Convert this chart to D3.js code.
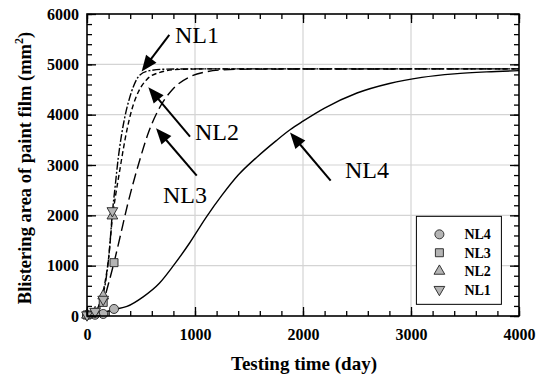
<!DOCTYPE html>
<html>
<head>
<meta charset="utf-8">
<script src="https://cdn.jsdelivr.net/npm/d3@7"></script>
<style>
  body { margin: 0; background: #fff; }
  svg text { font-family: "Times New Roman", Times, "Liberation Serif", "DejaVu Serif", serif; }
</style>
</head>
<body>
<svg id="chart" width="536" height="378"></svg>
<script>
// fitted curves (day, area mm2)
var nl1_curve = [[0,0],[60,50],[120,260],[170,650],[205,1250],[235,2050],[262,2600],[290,3150],[320,3600],[350,3950],[390,4300],[430,4560],[490,4790],[580,4875],[740,4905],[1000,4910],[4000,4910]];
var nl2_curve = [[0,0],[60,55],[120,260],[165,650],[200,1150],[235,1950],[265,2400],[300,2850],[335,3300],[370,3700],[415,4100],[475,4450],[550,4690],[675,4840],[860,4900],[1200,4910],[4000,4910]];
var nl3_curve = [[0,0],[60,30],[120,180],[150,290],[200,650],[250,1060],[305,1560],[380,2250],[475,3000],[570,3650],[675,4150],[800,4520],[950,4750],[1100,4850],[1260,4890],[1500,4905],[4000,4910]];
var nl4_curve = [[0,0],[100,40],[250,130],[370,190],[520,380],[670,650],[800,1000],[950,1450],[1100,1950],[1250,2400],[1400,2800],[1570,3150],[1750,3480],[1880,3700],[2000,3870],[2200,4130],[2500,4430],[2800,4620],[3100,4740],[3400,4810],[3700,4850],[4000,4875]];

// measured points
var nl4_points = [[0,20],[75,25],[150,40],[250,140]];
var nl3_points = [[0,20],[75,60],[150,270],[250,1060]];
var nl2_points = [[0,20],[75,70],[150,400],[235,1990]];
var nl1_points = [[0,20],[75,90],[150,330],[235,2090]];

var x_ticks = [0, 1000, 2000, 3000, 4000];
var y_ticks = [0, 1000, 2000, 3000, 4000, 5000, 6000];

// arrow labels: text position, arrow tail, arrow tip (day, area)
var labels = [
  {name: "NL1", text: [815, 5427], from: [762, 5586], to: [506, 4857]},
  {name: "NL2", text: [1000, 3499], from: [954, 3565], to: [568, 4547]},
  {name: "NL3", text: [704, 2247], from: [1016, 2789], to: [639, 3732]},
  {name: "NL4", text: [2389, 2738], from: [2256, 2690], to: [1880, 3644]}
];

var legend_items = ["NL4", "NL3", "NL2", "NL1"];

var serif = "'Times New Roman', Times, 'Liberation Serif', 'DejaVu Serif', serif";
var margin = {left: 87, top: 14, right: 17, bottom: 62};
var svg = d3.select("#chart");
var width = 536 - margin.left - margin.right;
var height = 378 - margin.top - margin.bottom;

var g = svg.append("g").attr("transform", "translate(" + margin.left + "," + margin.top + ")");

var x = d3.scaleLinear().domain([0, 4000]).range([0, width]);
var y = d3.scaleLinear().domain([0, 6000]).range([height, 0]);

var x_minor = d3.range(0, 4001, 200);
var y_minor = d3.range(0, 6001, 200);

// grid
g.selectAll(".gridx").data(x_ticks.slice(1, -1)).enter().append("line")
    .attr("x1", function(d) { return x(d); }).attr("x2", function(d) { return x(d); })
    .attr("y1", 0).attr("y2", height)
    .attr("stroke", "#d4d4d4").attr("stroke-width", 1.2);
g.selectAll(".gridy").data(y_ticks.slice(1, -1)).enter().append("line")
    .attr("y1", function(d) { return y(d); }).attr("y2", function(d) { return y(d); })
    .attr("x1", 0).attr("x2", width)
    .attr("stroke", "#d4d4d4").attr("stroke-width", 1.2);

// curves
var line = d3.line()
    .x(function(d) { return x(d[0]); })
    .y(function(d) { return y(d[1]); })
    .curve(d3.curveMonotoneX);

var curves = [
  {data: nl4_curve, dash: null},
  {data: nl3_curve, dash: "11,5"},
  {data: nl2_curve, dash: "5,3"},
  {data: nl1_curve, dash: "8,2,2,2"}
];
g.selectAll(".curve").data(curves).enter().append("path")
    .attr("class", "curve")
    .attr("d", function(d) { return line(d.data); })
    .attr("fill", "none")
    .attr("stroke", "#000")
    .attr("stroke-width", 1.4)
    .attr("stroke-dasharray", function(d) { return d.dash; });

// markers
var symbols = {
  NL4: d3.symbol().type(d3.symbolCircle).size(64),
  NL3: d3.symbol().type(d3.symbolSquare).size(64),
  NL2: d3.symbol().type(d3.symbolTriangle).size(50),
  NL1: d3.symbol().type(d3.symbolTriangle).size(50)
};
function drawMarkers(sel, name, pts) {
  sel.selectAll(".m_" + name).data(pts).enter().append("path")
      .attr("class", "m_" + name)
      .attr("d", symbols[name]())
      .attr("transform", function(d) {
          return "translate(" + x(d[0]) + "," + y(d[1]) + ")" + (name == "NL1" ? " rotate(180)" : "");
      })
      .attr("fill", "#b4b4b4")
      .attr("stroke", "#222")
      .attr("stroke-width", 0.9);
}
drawMarkers(g, "NL4", nl4_points);
drawMarkers(g, "NL3", nl3_points);
drawMarkers(g, "NL2", nl2_points);
drawMarkers(g, "NL1", nl1_points);

// arrows with labels
function angle(d) {
  return Math.atan2(y(d.to[1]) - y(d.from[1]), x(d.to[0]) - x(d.from[0]));
}
g.selectAll(".arrow").data(labels).enter().append("line")
    .attr("x1", function(d) { return x(d.from[0]); })
    .attr("y1", function(d) { return y(d.from[1]); })
    .attr("x2", function(d) { return x(d.to[0]) - 12 * Math.cos(angle(d)); })
    .attr("y2", function(d) { return y(d.to[1]) - 12 * Math.sin(angle(d)); })
    .attr("stroke", "#000").attr("stroke-width", 2);

g.selectAll(".head").data(labels).enter().append("path")
    .attr("d", "M0,0 L-16,-6.5 L-16,6.5 Z")
    .attr("transform", function(d) {
        return "translate(" + x(d.to[0]) + "," + y(d.to[1]) + ") rotate(" + (angle(d) * 180 / Math.PI) + ")";
    })
    .attr("fill", "#000");

g.selectAll(".lbl").data(labels).enter().append("text")
    .attr("x", function(d) { return x(d.text[0]); })
    .attr("y", function(d) { return y(d.text[1]); })
    .attr("font-size", "24px")
    .style("font-family", serif)
    .text(function(d) { return d.name; });

// axes: ticks inside on all four sides
function styleAxis(a) {
  a.select(".domain").remove();
  a.selectAll("line").attr("stroke", "#000").attr("stroke-width", 1.3);
  a.selectAll("text").attr("font-size", "16px").attr("font-weight", "bold")
      .style("font-family", serif).attr("fill", "#000");
}
var ax;
ax = g.append("g").attr("transform", "translate(0," + height + ")")
    .call(d3.axisBottom(x).tickValues(x_minor).tickSize(-5).tickFormat(""));
styleAxis(ax);
ax = g.append("g").attr("transform", "translate(0," + height + ")")
    .call(d3.axisBottom(x).tickValues(x_ticks).tickSize(-9).tickPadding(13).tickFormat(d3.format("d")));
styleAxis(ax);
ax = g.append("g")
    .call(d3.axisTop(x).tickValues(x_minor).tickSize(-5).tickFormat(""));
styleAxis(ax);
ax = g.append("g")
    .call(d3.axisTop(x).tickValues(x_ticks).tickSize(-9).tickFormat(""));
styleAxis(ax);
ax = g.append("g")
    .call(d3.axisLeft(y).tickValues(y_minor).tickSize(-5).tickFormat(""));
styleAxis(ax);
ax = g.append("g")
    .call(d3.axisLeft(y).tickValues(y_ticks).tickSize(-9).tickPadding(8).tickFormat(d3.format("d")));
styleAxis(ax);
ax = g.append("g").attr("transform", "translate(" + width + ",0)")
    .call(d3.axisRight(y).tickValues(y_minor).tickSize(-5).tickFormat(""));
styleAxis(ax);
ax = g.append("g").attr("transform", "translate(" + width + ",0)")
    .call(d3.axisRight(y).tickValues(y_ticks).tickSize(-9).tickFormat(""));
styleAxis(ax);

// frame
g.append("rect").attr("x", 0).attr("y", 0).attr("width", width).attr("height", height)
    .attr("fill", "none").attr("stroke", "#000").attr("stroke-width", 1.6);

// legend
var legend = g.append("g").attr("transform", "translate(" + (x(3050)) + "," + (y(2000) + 1) + ")");
legend.append("rect").attr("width", 85).attr("height", 88)
    .attr("fill", "#fff").attr("stroke", "#000").attr("stroke-width", 1);
legend_items.forEach(function(name, i) {
  var row = legend.append("g").attr("transform", "translate(0," + (18 + i * 18.4) + ")");
  row.append("path")
      .attr("d", symbols[name]())
      .attr("transform", "translate(23,0)" + (name == "NL1" ? " rotate(180)" : ""))
      .attr("fill", "#b4b4b4").attr("stroke", "#222").attr("stroke-width", 0.9);
  row.append("text").attr("x", 48).attr("y", 5)
      .attr("font-size", "14px").attr("font-weight", "bold")
      .style("font-family", serif)
      .text(name);
});

// axis titles
svg.append("text")
    .attr("x", margin.left + width / 2 + 1).attr("y", 370)
    .attr("text-anchor", "middle")
    .attr("font-size", "19px").attr("font-weight", "bold")
    .style("font-family", serif)
    .text("Testing time (day)");

var ylab = svg.append("text")
    .attr("transform", "translate(31," + (margin.top + height / 2 + 3) + ") rotate(-90)")
    .attr("text-anchor", "middle")
    .attr("font-size", "18.5px").attr("font-weight", "bold")
    .style("font-family", serif);
ylab.append("tspan").text("Blistering area of paint film (mm");
ylab.append("tspan").attr("font-size", "12px").attr("dy", "-8").text("2");
ylab.append("tspan").attr("dy", "8").text(")");
</script>
</body>
</html>
